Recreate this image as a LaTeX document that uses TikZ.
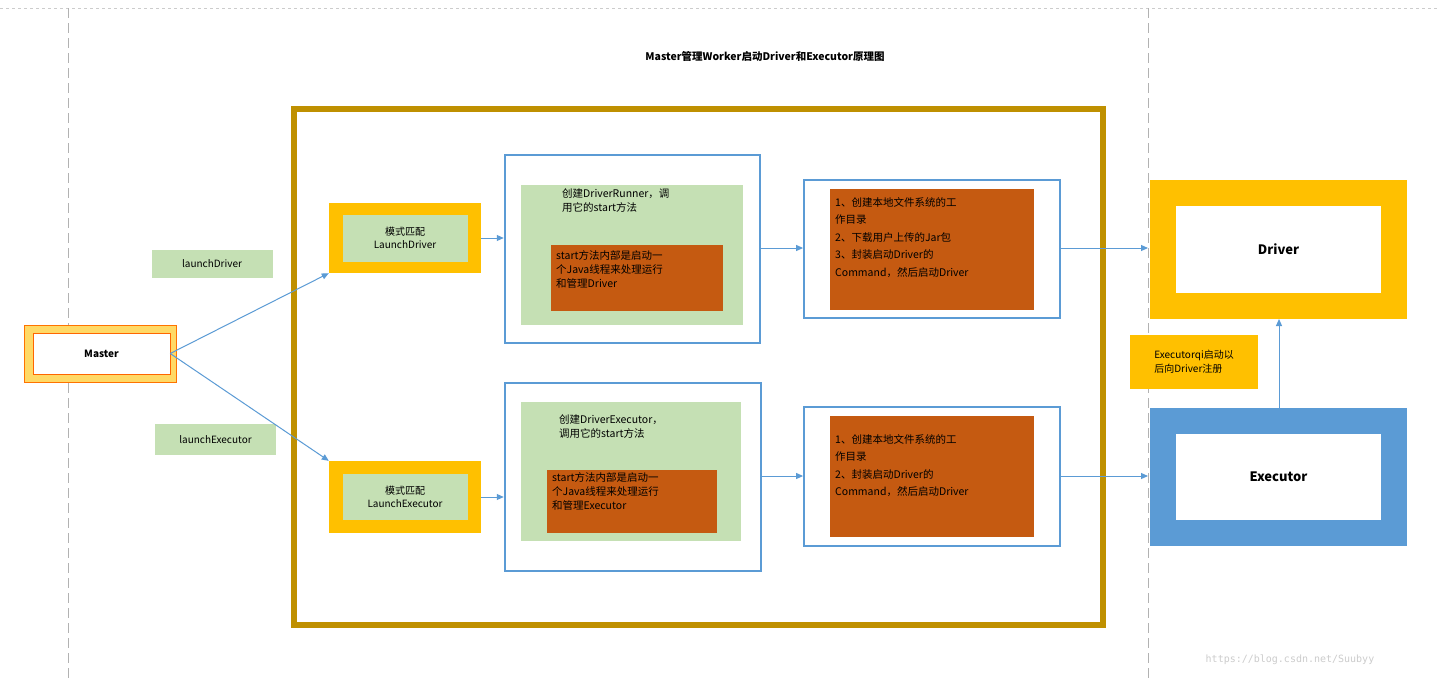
\documentclass[tikz,border=0pt]{standalone}
\usepackage{fontspec}
\setmainfont{Noto Sans CJK SC}
\newfontfamily\monof{DejaVu Sans Mono}
\usetikzlibrary{arrows.meta}
\definecolor{gold}{HTML}{BF9000}
\definecolor{amber}{HTML}{FFC000}
\definecolor{lgreen}{HTML}{C5E0B4}
\definecolor{bblue}{HTML}{5B9BD5}
\definecolor{rust}{HTML}{C55A11}
\definecolor{myel}{HTML}{FFD966}
\tikzset{
  arr/.style={draw=bblue,line width=1pt,-{Triangle[length=7pt,width=6pt]}},
  gl/.style={fill=lgreen,draw=none},
  txt/.style={font=\fontsize{10.5}{14}\selectfont,align=left,anchor=north west,inner sep=0pt},
}
\begin{document}
\begin{tikzpicture}[x=1pt,y=-1pt]
\useasboundingbox (0,0) rectangle (1437,680);
\fill[white] (0,0) rectangle (1437,680);
\draw[gray!40,dashed] (0,8) -- (1437,8);
\draw[gray!60,dash pattern=on 10pt off 5pt] (68,8) -- (68,680);
\draw[gray!60,dash pattern=on 10pt off 5pt] (1148,8) -- (1148,680);
\node[font=\bfseries\fontsize{10.5}{12}\selectfont] (title) at (765,56) {Master管理Worker启动Driver和Executor原理图};
% big box
\draw[gold,line width=6pt] (294,109) rectangle (1103,625);
% master
\draw[fill=myel,draw=orange!90!red] (24,325) rectangle (176,382);
\node[draw=orange!80!red,fill=white,minimum width=137pt,minimum height=41pt,font=\bfseries\fontsize{10}{12}\selectfont,inner sep=0pt] (master) at (101.5,353.5) {Master};
\node[gl,minimum width=121pt,minimum height=28pt,font=\fontsize{10}{12}\selectfont] (ld) at (212,264) {launchDriver};
\node[gl,minimum width=121pt,minimum height=31pt,font=\fontsize{10}{12}\selectfont] (le) at (215.5,439.5) {launchExecutor};
% pattern boxes
\node[fill=amber,minimum width=152pt,minimum height=70pt] (p1) at (405,238) {};
\node[gl,minimum width=125pt,minimum height=47pt,align=center,font=\fontsize{10}{13}\selectfont,inner sep=0pt] at (p1) {模式匹配\\LaunchDriver};
\node[fill=amber,minimum width=152pt,minimum height=72pt] (p2) at (405,497) {};
\node[gl,minimum width=125pt,minimum height=46pt,align=center,font=\fontsize{10}{13}\selectfont,inner sep=0pt] at (p2) {模式匹配\\LaunchExecutor};
% runner boxes
\node[draw=bblue,line width=2.5pt,minimum width=255pt,minimum height=188pt] (r1) at (632.5,249) {};
\fill[lgreen] (521,185) rectangle (743,325);
\node[txt] at (562,188) {创建DriverRunner，调\\用它的start方法};
\fill[rust] (551,245) rectangle (723,311);
\node[txt] at (556,250) {start方法内部是启动一\\个Java线程来处理运行\\和管理Driver};
\node[draw=bblue,line width=2.5pt,minimum width=256pt,minimum height=188pt] (r2) at (633,477) {};
\fill[lgreen] (521,402) rectangle (741,541);
\node[txt] at (559,414) {创建DriverExecutor，\\调用它的start方法};
\fill[rust] (547,470) rectangle (717,533);
\node[txt] at (552,472) {start方法内部是启动一\\个Java线程来处理运行\\和管理Executor};
% step boxes
\node[draw=bblue,line width=1.8pt,minimum width=256pt,minimum height=138pt] (s1) at (932,249) {};
\fill[rust] (830,189) rectangle (1034,310);
\node[txt,font=\fontsize{10.5}{17.5}\selectfont] at (835,197) {1、创建本地文件系统的工\\作目录\\2、下载用户上传的Jar包\\3、封装启动Driver的\\Command，然后启动Driver};
\node[draw=bblue,line width=1.8pt,minimum width=256pt,minimum height=139pt] (s2) at (932,476.5) {};
\fill[rust] (830,416) rectangle (1034,537);
\node[txt,font=\fontsize{10.5}{17.5}\selectfont] at (835,434) {1、创建本地文件系统的工\\作目录\\2、封装启动Driver的\\Command，然后启动Driver};
% driver / executor
\node[draw=amber,line width=26pt,minimum width=231pt,minimum height=113pt,font=\bfseries\fontsize{13}{15}\selectfont] (drv) at (1278.5,249.5) {Driver};
\node[draw=bblue,line width=26pt,minimum width=231pt,minimum height=112pt,font=\bfseries\fontsize{13}{15}\selectfont] (exe) at (1278.5,477) {Executor};
\node[fill=amber,minimum width=128pt,minimum height=54pt,align=left,font=\fontsize{10}{14}\selectfont,inner sep=3pt] (lab) at (1194,362) {Executorqi启动以\\后向Driver注册};
% arrows
\draw[arr] (master.east) -- (p1.south west);
\draw[arr] (master.east) -- (p2.north west);
\draw[arr] (p1.east) -- (p1.east -| r1.west);
\draw[arr] (p2.east) -- (p2.east -| r2.west);
\draw[arr] (r1.east |- 0,248) -- (s1.west |- 0,248);
\draw[arr] (r2.east |- 0,476) -- (s2.west |- 0,476);
\draw[arr] (s1.east |- 0,248) -- (1148,248);
\draw[arr] (s2.east |- 0,476) -- (1148,476);
\draw[arr] (1279,408) -- (1279,319);
\node[font=\monof\fontsize{10}{12}\selectfont,text=gray!40] (wm) at (1290,660) {https://blog.csdn.net/Suubyy};
\end{tikzpicture}
\end{document}
